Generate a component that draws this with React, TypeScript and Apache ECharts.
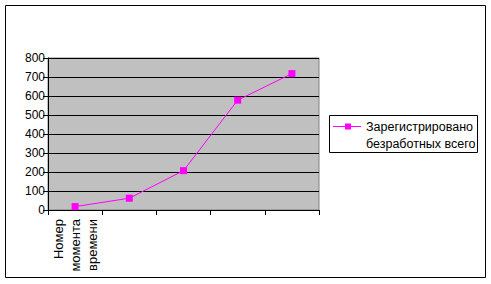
import React, { useEffect, useRef } from "react";
import * as echarts from "echarts";

const categories = ["Номер\nмомента\nвремени", "", "", "", ""];
const registeredUnemployed = [18, 62, 207, 578, 718];
const seriesName = "Зарегистрировано безработных всего";
const legendLines = ["Зарегистрировано", "безработных всего"];
const yMin = 0;
const yMax = 800;
const yInterval = 100;

const FONT = "'Liberation Sans', Arial, sans-serif";

export default function App() {
  const ref = useRef<HTMLDivElement>(null);
  useEffect(() => {
    if (!ref.current) return;
    const chart = echarts.init(ref.current, undefined, { renderer: "svg" });
    chart.setOption({
      animation: false,
      backgroundColor: "#ffffff",
      textStyle: { fontFamily: FONT },
      grid: {
        left: 48,
        right: 172,
        top: 58,
        bottom: 74,
        show: true,
        backgroundColor: "#c0c0c0",
        borderColor: "#808080",
        borderWidth: 1,
      },
      xAxis: {
        type: "category",
        data: categories,
        boundaryGap: true,
        axisLine: { show: true, lineStyle: { color: "#000", width: 1 } },
        axisTick: { show: true, length: 5, inside: false, lineStyle: { color: "#000" } },
        axisLabel: {
          rotate: 90,
          interval: 0,
          margin: 9,
          color: "#000",
          fontSize: 13,
          lineHeight: 17,
          fontFamily: FONT,
        },
        splitLine: { show: false },
      },
      yAxis: {
        type: "value",
        min: yMin,
        max: yMax,
        interval: yInterval,
        axisLine: { show: true, lineStyle: { color: "#000", width: 1 } },
        axisTick: { show: true, length: 5, inside: false, lineStyle: { color: "#000" } },
        axisLabel: { color: "#000", fontSize: 12, margin: 3, fontFamily: FONT },
        splitLine: { show: true, lineStyle: { color: "#000", width: 1 } },
      },
      series: [
        {
          name: seriesName,
          type: "line",
          data: registeredUnemployed,
          symbol: "rect",
          symbolSize: 7,
          itemStyle: { color: "#ff00ff" },
          lineStyle: { color: "#ff00ff", width: 1 },
        },
      ],
      legend: { show: false },
      graphic: [
        {
          type: "rect",
          shape: { x: 5.5, y: 5.5, width: 480, height: 272 },
          style: { fill: "none", stroke: "#000", lineWidth: 1 },
          silent: true,
          z: 100,
        },
        {
          type: "group",
          left: 329,
          top: 115,
          children: [
            {
              type: "rect",
              shape: { x: 0.5, y: 0.5, width: 148, height: 37 },
              style: { fill: "#fff", stroke: "#000", lineWidth: 1 },
            },
            {
              type: "line",
              shape: { x1: 4, y1: 11.5, x2: 32, y2: 11.5 },
              style: { stroke: "#ff00ff", lineWidth: 1 },
            },
            {
              type: "rect",
              shape: { x: 16, y: 8.5, width: 6, height: 6 },
              style: { fill: "#ff00ff", stroke: "none" },
            },
            {
              type: "text",
              x: 37,
              y: 3,
              style: {
                text: legendLines.join("\n"),
                fontSize: 12.5,
                lineHeight: 17,
                fontFamily: FONT,
                fill: "#000",
                verticalAlign: "top",
              },
            },
          ],
        },
      ],
    });
    return () => chart.dispose();
  }, []);
  return (
    <div
      ref={ref}
      style={{ position: "fixed", left: 0, top: 0, width: 491, height: 284 }}
    />
  );
}
